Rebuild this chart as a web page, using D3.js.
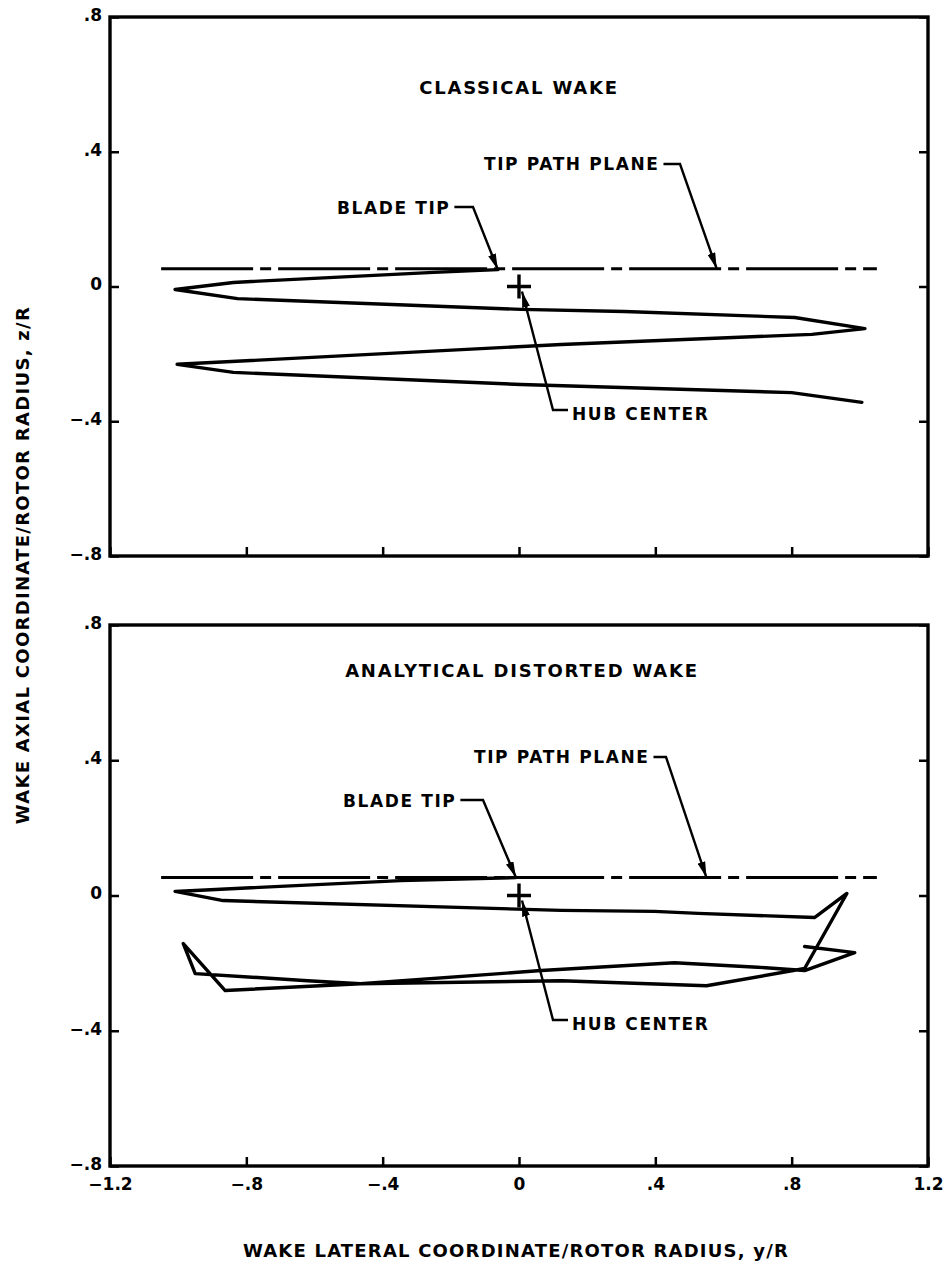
<!DOCTYPE html>
<html><head><meta charset="utf-8">
<script src="https://cdn.jsdelivr.net/npm/d3@7"></script>
<style>
body{margin:0;background:#fff}
text{font-family:"DejaVu Sans",sans-serif;font-weight:bold;fill:#000}
</style>
</head><body>
<svg id="c" width="947" height="1270"></svg>
<script>
// ---------- data ----------
const xTicks = [-1.2, -0.8, -0.4, 0, 0.4, 0.8, 1.2];
const xTickLabels = ["\u22121.2", "\u2212.8", "\u2212.4", "0", ".4", ".8", "1.2"];
const yTicks = [-0.8, -0.4, 0, 0.4, 0.8];
const yTickLabels = ["\u2212.8", "\u2212.4", "0", ".4", ".8"];

// classical wake filament (y/R, z/R), starting at the blade tip
const classicalY = [-0.062, -0.25, -0.838, -1.009, -0.826, 0.006, 0.309, 0.809, 1.015, 0.859, 0.124, -1.003, -0.838, 0.006, 0.8, 1.006];
const classicalZ = [0.050, 0.042, 0.012, -0.009, -0.036, -0.068, -0.074, -0.092, -0.125, -0.142, -0.172, -0.231, -0.255, -0.291, -0.315, -0.344];

// analytical distorted wake filament
const distortedY = [-0.009, -0.347, -1.009, -0.868, 0.124, 0.397, 0.526, 0.868, 0.962, 0.838, 0.55, 0.124, -0.465, -0.62, -0.95, -0.985, -0.862, -0.465, 0.065, 0.456, 0.70, 0.838, 0.985, 0.838];
const distortedZ = [0.053, 0.044, 0.012, -0.015, -0.044, -0.047, -0.053, -0.065, 0.006, -0.216, -0.267, -0.252, -0.261, -0.252, -0.231, -0.142, -0.281, -0.261, -0.222, -0.199, -0.212, -0.222, -0.169, -0.151];

const tipPathPlaneY = [-1.05, 1.05];
const tipPathPlaneZ = 0.053;
const hubCenter = [0, 0];

const panelTitles = ["CLASSICAL WAKE", "ANALYTICAL DISTORTED WAKE"];
const xTitle = "WAKE LATERAL COORDINATE/ROTOR RADIUS, y/R";
const yTitle = "WAKE AXIAL COORDINATE/ROTOR RADIUS, z/R";

// ---------- layout ----------
const svg = d3.select("#c");
const X0 = 110, X1 = 928;
const x = d3.scaleLinear().domain([-1.2, 1.2]).range([X0, X1]);

svg.append("defs").append("marker")
  .attr("id", "arr").attr("viewBox", "0 0 16 8").attr("refX", 16).attr("refY", 4)
  .attr("markerWidth", 16).attr("markerHeight", 8).attr("markerUnits", "userSpaceOnUse")
  .attr("orient", "auto")
  .append("path").attr("d", "M0,0 L16,4 L0,8 Z").attr("fill", "#000");

const panels = [
  {top: 17, bottom: 556, ys: classicalY, zs: classicalZ, labels: false,
   title: {cx: 519, cy: 87},
   tpp: {tx: 484, ty: 164, corner: [680, 164], target: 0.58},
   blade: {tx: 337, ty: 208, corner: [473, 207]},
   hub: {tx: 572, ty: 414, knee: [553, 410]}},
  {top: 625, bottom: 1166, ys: distortedY, zs: distortedZ, labels: true,
   title: {cx: 522, cy: 670},
   tpp: {tx: 474, ty: 757, corner: [666, 757], target: 0.55},
   blade: {tx: 343, ty: 801, corner: [483, 800]},
   hub: {tx: 572, ty: 1024, knee: [553, 1020]}}
];

panels.forEach((p, pi) => {
  const y = d3.scaleLinear().domain([-0.8, 0.8]).range([p.bottom, p.top]);
  const g = svg.append("g");

  // frame
  g.append("rect").attr("x", X0).attr("y", p.top).attr("width", X1 - X0).attr("height", p.bottom - p.top)
    .attr("fill", "none").attr("stroke", "#000").attr("stroke-width", 3.4);

  // axes
  const ax = g.append("g").attr("transform", `translate(${X0},0)`)
    .call(d3.axisLeft(y).tickValues(yTicks).tickSize(-9).tickPadding(8)
      .tickFormat((d, i) => yTickLabels[i]));
  const axR = g.append("g").attr("transform", `translate(${X1},0)`)
    .call(d3.axisRight(y).tickValues(yTicks).tickSize(-9).tickFormat(""));
  const axB = g.append("g").attr("transform", `translate(0,${p.bottom})`)
    .call(d3.axisBottom(x).tickValues(xTicks).tickSize(-9).tickPadding(12)
      .tickFormat((d, i) => p.labels ? xTickLabels[i] : ""));
  [ax, axR, axB].forEach(a => {
    a.select(".domain").remove();
    a.selectAll(".tick line").attr("stroke", "#000").attr("stroke-width", 2.5);
    a.selectAll("text").style("font-family", "'DejaVu Sans',sans-serif")
      .style("font-weight", "bold").style("font-size", "17px").attr("fill", "#000");
  });
  ax.selectAll("text").attr("dy", "0.2em");

  // tip path plane (dash-dot)
  g.append("line").attr("x1", x(tipPathPlaneY[0])).attr("x2", x(tipPathPlaneY[1]))
    .attr("y1", y(tipPathPlaneZ)).attr("y2", y(tipPathPlaneZ))
    .attr("stroke", "#000").attr("stroke-width", 3).attr("stroke-dasharray", "92,7,11,7");

  // wake filament
  const pts = p.ys.map((v, i) => [v, p.zs[i]]);
  g.append("path").datum(pts)
    .attr("d", d3.line().x(d => x(d[0])).y(d => y(d[1])))
    .attr("fill", "none").attr("stroke", "#000").attr("stroke-width", 3.4)
    .attr("stroke-linejoin", "round").attr("stroke-linecap", "round");

  // hub center cross
  const hx = x(hubCenter[0]), hy = y(hubCenter[1]);
  g.append("path").attr("d", `M${hx - 12},${hy}H${hx + 12}M${hx},${hy - 12}V${hy + 12}`)
    .attr("stroke", "#000").attr("stroke-width", 3.4);

  const txt = (s, xx, yy, anchor, fs, ls) => g.append("text").attr("x", xx).attr("y", yy)
    .attr("text-anchor", anchor || "start").attr("dominant-baseline", "central")
    .style("font-size", (fs || 17) + "px").style("letter-spacing", (ls || 1.6) + "px").text(s);

  // title
  txt(panelTitles[pi], p.title.cx, p.title.cy, "middle", 18, 1.8);

  // tip path plane label
  const tppT = txt("TIP PATH PLANE", p.tpp.tx, p.tpp.ty);
  const tppEnd = p.tpp.tx + tppT.node().getComputedTextLength() + 4;
  g.append("path").attr("d", `M${tppEnd},${p.tpp.corner[1]}L${p.tpp.corner[0]},${p.tpp.corner[1]}L${x(p.tpp.target)},${y(tipPathPlaneZ)}`)
    .attr("fill", "none").attr("stroke", "#000").attr("stroke-width", 2.4).attr("marker-end", "url(#arr)");

  // blade tip label
  const bT = txt("BLADE TIP", p.blade.tx, p.blade.ty);
  const bEnd = p.blade.tx + bT.node().getComputedTextLength() + 4;
  g.append("path").attr("d", `M${bEnd},${p.blade.corner[1]}L${p.blade.corner[0]},${p.blade.corner[1]}L${x(p.ys[0])},${y(p.zs[0])}`)
    .attr("fill", "none").attr("stroke", "#000").attr("stroke-width", 2.4).attr("marker-end", "url(#arr)");

  // hub center label
  txt("HUB CENTER", p.hub.tx, p.hub.ty);
  g.append("path").attr("d", `M${p.hub.tx - 4},${p.hub.knee[1]}L${p.hub.knee[0]},${p.hub.knee[1]}L${hx + 3},${hy + 5}`)
    .attr("fill", "none").attr("stroke", "#000").attr("stroke-width", 2.4).attr("marker-end", "url(#arr)");
});

// axis titles
svg.append("text").attr("x", 516).attr("y", 1250).attr("text-anchor", "middle")
  .attr("dominant-baseline", "central").style("font-size", "18px").style("letter-spacing", "1.2px").text(xTitle);
svg.append("text").attr("transform", "translate(22,565) rotate(-90)").attr("text-anchor", "middle")
  .attr("dominant-baseline", "central").style("font-size", "18px").style("letter-spacing", "1.3px").text(yTitle);
</script>
</body></html>
